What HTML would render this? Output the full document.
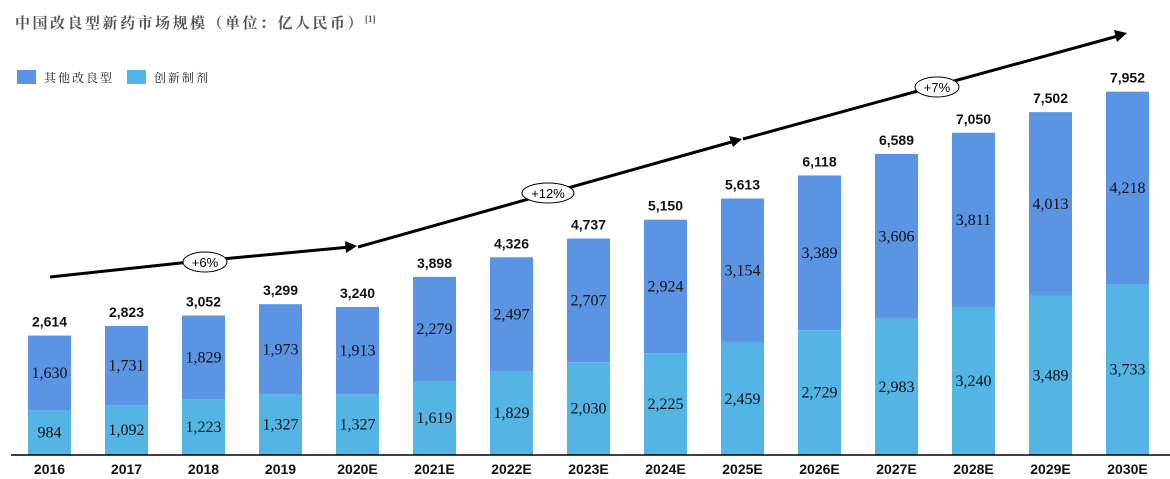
<!DOCTYPE html>
<html><head><meta charset="utf-8"><style>
body{margin:0;background:#fff;width:1170px;height:479px;overflow:hidden;position:relative;font-family:"Liberation Sans","Noto Sans CJK SC",sans-serif}
</style></head><body>
<svg width="1170" height="479" xmlns="http://www.w3.org/2000/svg" style="position:absolute;left:0;top:0">
<text x="15" y="28" font-family="'Liberation Serif','Noto Serif CJK SC',serif" font-weight="bold" font-size="15" letter-spacing="2.5" fill="#555">中国改良型新药市场规模（单位：亿人民币）<tspan font-size="9" dy="-6" letter-spacing="0">[1]</tspan></text>
<rect x="17" y="70" width="19" height="14" fill="#5B94E3"/>
<text x="44" y="82" font-family="'Noto Serif CJK SC',serif" font-size="12" letter-spacing="2" fill="#222">其他改良型</text>
<rect x="127" y="70" width="19" height="14" fill="#54B4E4"/>
<text x="154" y="82" font-family="'Noto Serif CJK SC',serif" font-size="12" letter-spacing="2" fill="#222">创新制剂</text>
<g id="bars"></g>
<line x1="11" y1="455" x2="1170" y2="455" stroke="#000" stroke-width="1.5"/>
<g stroke="#000" stroke-width="3" fill="none">
<polyline points="50,277 190,262 350,247"/>
<polyline points="358,247 735,141"/>
<polyline points="743,139 1118,36"/>
</g>
<g fill="#000">
<polygon points="357,246 345,241 346,253"/>
<polygon points="742,139 729,136 733,147"/>
<polygon points="1127,33 1114,30 1117,42"/>
</g>
<g font-family="'Liberation Sans',sans-serif" font-size="13" text-anchor="middle">
<ellipse cx="205" cy="262" rx="22" ry="10" fill="#fff" stroke="#000"/><text x="205" y="267">+6%</text>
<ellipse cx="548" cy="193" rx="26" ry="10" fill="#fff" stroke="#000"/><text x="548" y="198">+12%</text>
<ellipse cx="937" cy="87" rx="22" ry="10" fill="#fff" stroke="#000"/><text x="937" y="92">+7%</text>
</g>
</svg>
<script>
const d=[["2016",984,1630,2614],["2017",1092,1731,2823],["2018",1223,1829,3052],["2019",1327,1973,3299],["2020E",1327,1913,3240],["2021E",1619,2279,3898],["2022E",1829,2497,4326],["2023E",2030,2707,4737],["2024E",2225,2924,5150],["2025E",2459,3154,5613],["2026E",2729,3389,6118],["2027E",2983,3606,6589],["2028E",3240,3811,7050],["2029E",3489,4013,7502],["2030E",3733,4218,7952]];
const f=n=>n.toLocaleString('en-US');const s=0.0457,b=455;let h='';
d.forEach((r,i)=>{const x=28+i*77,cx=x+21.5;const h1=r[1]*s,h2=r[2]*s;const y1=b-h1,y2=y1-h2;
h+=`<rect x="${x}" y="${y1}" width="43" height="${h1}" fill="#54B4E4"/><rect x="${x}" y="${y2}" width="43" height="${h2}" fill="#5B94E3"/>`;
h+=`<g font-family="'Liberation Serif',serif" font-size="16" text-anchor="middle" fill="#111"><text x="${cx}" y="${y1+h1/2+5}">${f(r[1])}</text><text x="${cx}" y="${y2+h2/2+5}">${f(r[2])}</text></g>`;
h+=`<text x="${cx}" y="${y2-9}" font-family="'Liberation Sans',sans-serif" font-weight="bold" font-size="14" text-anchor="middle" fill="#111">${f(r[3])}</text>`;
h+=`<text x="${cx}" y="474" font-family="'Liberation Sans',sans-serif" font-weight="bold" font-size="14" text-anchor="middle" fill="#111">${r[0]}</text>`;});
document.getElementById('bars').innerHTML=h;
</script>
</body></html>
